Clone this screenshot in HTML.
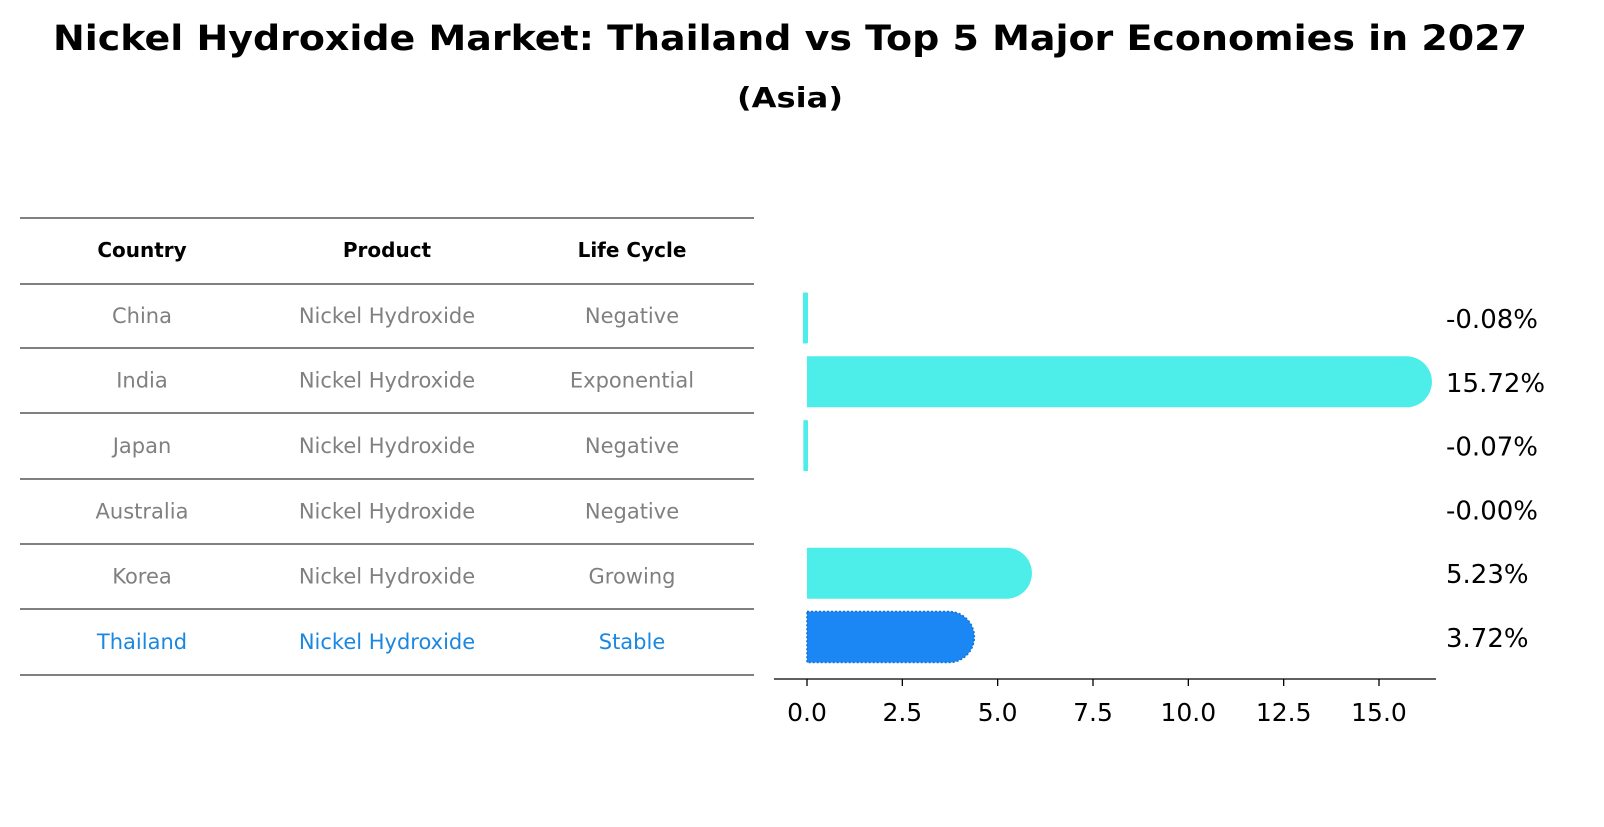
<!DOCTYPE html>
<html><head><meta charset="utf-8"><style>
body{margin:0;background:#fff;font-family:"DejaVu Sans","Liberation Sans",sans-serif}
</style></head><body>
<svg width="1604" height="823" xmlns="http://www.w3.org/2000/svg" font-family="DejaVu Sans, Liberation Sans, sans-serif">
<text x="790" y="50" text-anchor="middle" font-size="35" font-weight="bold" textLength="1474" lengthAdjust="spacingAndGlyphs">Nickel Hydroxide Market: Thailand vs Top 5 Major Economies in 2027</text>
<text x="790" y="107" text-anchor="middle" font-size="28" font-weight="bold" textLength="106" lengthAdjust="spacingAndGlyphs">(Asia)</text>
<g id="table"></g>
<g id="bars"></g>
</svg>
<script>
const countries=["China","India","Japan","Australia","Korea","Thailand"];
const products=["Nickel Hydroxide","Nickel Hydroxide","Nickel Hydroxide","Nickel Hydroxide","Nickel Hydroxide","Nickel Hydroxide"];
const lifeCycles=["Negative","Exponential","Negative","Negative","Growing","Stable"];
const values=[-0.08,15.72,-0.07,-0.00,5.23,3.72];
const valueLabels=["-0.08%","15.72%","-0.07%","-0.00%","5.23%","3.72%"];
const ticks=[0,2.5,5,7.5,10,12.5,15];
const NS="http://www.w3.org/2000/svg";
function mk(t,a,p){const e=document.createElementNS(NS,t);for(const k in a)e.setAttribute(k,a[k]);p.appendChild(e);return e;}
const tbl=document.getElementById('table');
const lineYs=[218,284,348,413,479,544,609,675];
lineYs.forEach((y,i)=>{const l=mk('line',{x1:20,x2:754,y1:y,y2:y,stroke:'#000','stroke-width':1},tbl);
});
const colX=[142,387,632];
["Country","Product","Life Cycle"].forEach((h,i)=>{const t=mk('text',{x:colX[i],y:257,'text-anchor':'middle','font-size':20,'font-weight':'bold'},tbl);t.textContent=h;
});
countries.forEach((c,r)=>{const y=(lineYs[r+1]+lineYs[r+2])/2+7;const col=c==="Thailand"?'#1a87e0':'#808080';
[c,products[r],lifeCycles[r]].forEach((v,i)=>{const t=mk('text',{x:colX[i],y:y,'text-anchor':'middle','font-size':21,fill:col},tbl);t.textContent=v;
});});
const g=document.getElementById('bars');
const x0=807,ppu=(1379-807)/15;
const X=v=>x0+v*ppu;
const rowY=i=>318+i*63.8;
const bh=51,r=25.5;
values.forEach((v,i)=>{const cy=rowY(i);const col=countries[i]==="Thailand"?'#1a87f5':'#4deeea';
const xa=Math.min(X(0),X(v)),xb=Math.max(X(0),X(v));let el;
if(Math.abs(v)>0.5){el=mk('path',{d:`M${xa},${cy-bh/2} L${xb},${cy-bh/2} A${r},${r} 0 0 1 ${xb},${cy+bh/2} L${xa},${cy+bh/2} Z`,fill:col},g);
if(countries[i]==="Thailand"){el.setAttribute('stroke','#1570d0');el.setAttribute('stroke-dasharray','2,2');el.setAttribute('stroke-width','1.5');}}
else{el=mk('rect',{x:xa-1,y:cy-bh/2,width:Math.max(xb-xa,0)+(Math.abs(v)>0.001?2:0),height:bh,fill:col,rx:1},g);if(Math.abs(v)<0.001)el.setAttribute('width',0);}

const t=mk('text',{x:1446,y:cy+10,'font-size':26},g);t.textContent=valueLabels[i];
});
const ax=mk('line',{x1:774,x2:1436,y1:679,y2:679,stroke:'#000','stroke-width':1.3},g);

ticks.forEach(v=>{const tk=mk('line',{x1:X(v),x2:X(v),y1:679,y2:686,stroke:'#000','stroke-width':1.3},g);

const t=mk('text',{x:X(v),y:721,'text-anchor':'middle','font-size':25},g);t.textContent=v.toFixed(1);
});
</script>
</body></html>
